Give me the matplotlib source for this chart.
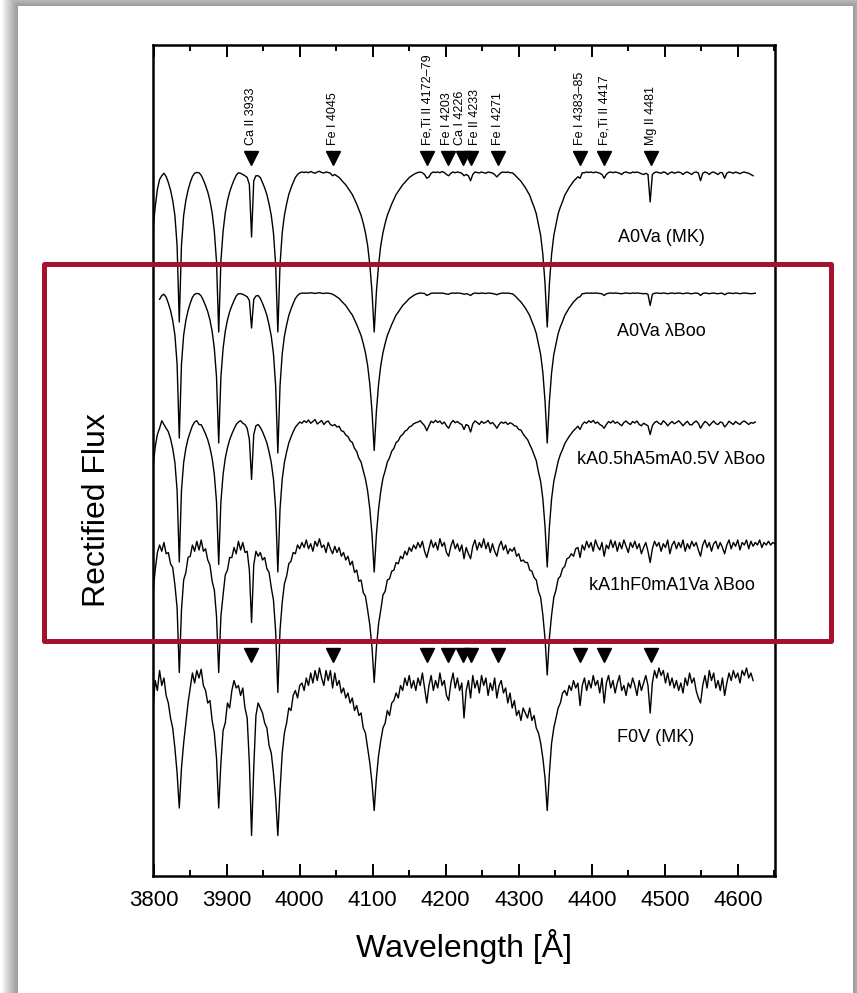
import numpy as np
import matplotlib.pyplot as plt
from matplotlib.patches import Rectangle
from matplotlib.ticker import MultipleLocator

plt.rcParams['font.family'] = ['Liberation Sans', 'DejaVu Sans']

nan = np.nan

# spectra sampled every 3 A from 3799 A
wave = np.arange(3799, 4652, 3)

# A0Va (MK)
flux_a0_mk = [
    .77, .86, .93, .97, .985, .995, .982, .958, .928, .886,
    .826, .706, .40, .706, .826, .886, .928, .958, .982, .995,
    .998, .997, .987, .968, .946, .92, .885, .837, .763, .642,
    .36, .642, .763, .837, .885, .92, .946, .968, .987, .997,
    .995, .99, .985, .978, .95, .74, .965, .985, .985, .978,
    .958, .936, .91, .872, .827, .757, .629, .36, .629, .757,
    .827, .872, .91, .936, .958, .978, .99, .997, 1.0, .998,
    1.0, .997, 1.002, .998, .995, 1.0, 1.003, .998, .996, 1.0,
    .998, .995, .985, .99, .984, .978, .968, .958, .949, .936,
    .923, .91, .891, .872, .85, .827, .795, .757, .706, .629,
    .52, .36, .52, .629, .706, .757, .795, .827, .85, .872,
    .891, .91, .923, .936, .949, .958, .968, .978, .984, .99,
    .995, .998, 1.0, .997, .99, .975, .98, .995, 1.0, .998,
    1.0, .997, 1.002, .998, .99, .985, .995, 1.0, .997, 1.0,
    .998, .995, .985, .99, .985, .965, .99, 1.0, .998, .996,
    1.0, .997, .995, 1.0, .998, .996, .99, .98, .99, .998,
    1.0, .998, 1.0, .997, .997, .99, .981, .972, .963, .95,
    .938, .922, .907, .882, .86, .833, .789, .746, .671, .554,
    .38, .554, .671, .746, .789, .833, .86, .882, .907, .922,
    .938, .95, .963, .972, .981, .975, .997, .997, 1.0, .998,
    1.0, .997, 1.0, .998, .995, .99, .975, .99, .998, 1.0,
    .997, 1.0, .998, .995, .99, .998, 1.0, .997, .995, 1.0,
    .998, 1.0, .997, .993, .99, .995, .99, .88, .99, .998,
    1.0, .997, .995, 1.0, .998, .99, .997, 1.0, .995, .998,
    1.0, .997, .99, .998, 1.0, .995, .99, .998, 1.0, .996,
    .965, .995, 1.0, .997, .99, .998, 1.0, .995, .99, .998,
    .997, .975, .995, 1.0, .998, .995, 1.0, .997, .993, .998,
    1.0, .997, .995, .99, .985,
]

# A0Va lambda Boo
flux_a0_lb = [
    nan, nan, nan, .975, .99, .995, .983, .959, .93, .89,
    .832, .716, .42, .716, .832, .89, .93, .959, .983, .995,
    .998, .997, .988, .97, .949, .925, .892, .847, .778, .664,
    .40, .664, .778, .847, .892, .925, .949, .97, .988, .997,
    .997, .995, .99, .985, .97, .86, .975, .988, .99, .978,
    .958, .936, .91, .872, .827, .757, .629, .36, .629, .757,
    .827, .872, .91, .936, .958, .978, .99, .997, 1.0, .999,
    1.0, .999, 1.001, 1.0, .998, 1.0, 1.001, .999, .998, 1.0,
    .999, .998, .995, .99, .984, .978, .968, .959, .95, .937,
    .924, .912, .893, .874, .852, .83, .798, .761, .71, .635,
    .527, .37, .527, .635, .71, .761, .798, .83, .852, .874,
    .893, .912, .924, .937, .95, .959, .968, .978, .984, .99,
    .995, .998, 1.0, .999, .998, .99, .994, .999, 1.0, .999,
    1.0, .999, 1.0, .998, .996, .995, .999, 1.0, .999, 1.0,
    .999, .998, .995, .997, .995, .99, .997, 1.0, .999, .998,
    1.0, .999, .998, 1.0, .999, .998, .996, .993, .997, .999,
    1.0, .999, 1.0, .998, .997, .991, .982, .973, .964, .952,
    .94, .925, .91, .886, .865, .838, .796, .754, .682, .568,
    .40, .568, .682, .754, .796, .838, .865, .886, .91, .925,
    .94, .952, .964, .973, .982, .985, .997, .998, 1.0, .999,
    1.0, .999, 1.0, .999, .998, .997, .99, .997, .999, 1.0,
    .999, 1.0, .999, .998, .997, .999, 1.0, .999, .998, 1.0,
    .999, 1.0, .999, .998, .997, .998, .995, .95, .995, .999,
    1.0, .999, .998, 1.0, .999, .997, .999, 1.0, .998, .999,
    1.0, .999, .997, .999, 1.0, .998, .997, .999, 1.0, .998,
    .99, .998, 1.0, .999, .997, .999, 1.0, .998, .997, .999,
    .999, .993, .998, 1.0, .999, .998, 1.0, .999, .997, .999,
    1.0, .999, .998, .997, .998, .999,
]

# kA0.5hA5mA0.5V lambda Boo
flux_ka05 = [
    .82, .90, .95, .975, 1.005, .99, .975, .961, .933, .894,
    .838, .726, .44, .726, .838, .894, .933, .96, .985, 1.0,
    1.005, .99, .989, .972, .952, .929, .897, .855, .79, .68,
    .43, .68, .79, .855, .897, .929, .952, .972, .99, 1.0,
    1.005, .995, .99, .975, .93, .77, .95, .985, .99, .979,
    .961, .94, .916, .88, .838, .772, .652, .40, .652, .772,
    .838, .88, .916, .94, .961, .979, .99, 1.0, .995, 1.005,
    .998, 1.008, .995, 1.002, 1.01, .992, .999, 1.006, .99, 1.0,
    1.004, .99, .985, .99, .98, .983, .965, .962, .948, .942,
    .925, .918, .895, .882, .855, .84, .805, .772, .724, .652,
    .55, .40, .55, .652, .724, .775, .805, .84, .857, .883,
    .895, .918, .925, .943, .95, .963, .968, .98, .984, .993,
    .997, 1.0, 1.005, .995, .985, .965, .985, 1.003, .997, 1.007,
    .998, 1.004, .992, 1.0, .985, .975, .995, 1.006, .997, 1.002,
    .994, .99, .97, .99, .985, .96, .992, 1.004, .998, .99,
    1.003, .995, .999, 1.006, .993, .998, .988, .975, .99, 1.0,
    .995, 1.0, .99, .997, .993, .985, .983, .97, .968, .952,
    .94, .93, .91, .892, .868, .845, .80, .762, .693, .582,
    .42, .582, .693, .762, .803, .843, .87, .89, .913, .928,
    .942, .954, .965, .974, .983, .97, .99, 1.0, .995, 1.005,
    .998, 1.006, .995, 1.0, .99, .985, .975, .99, 1.002, .996,
    1.005, .995, 1.0, .992, .985, .998, 1.004, .995, .99, 1.002,
    .996, 1.004, .99, .985, .995, .99, .985, .95, .985, .998,
    1.003, .995, .99, 1.005, .997, .985, .995, 1.002, .993, .998,
    1.005, .996, .985, .995, 1.003, .99, .988, .998, 1.004, .995,
    .975, .99, 1.002, .997, .985, .995, 1.004, .993, .99, 1.0,
    .997, .98, .99, 1.003, .996, .99, 1.002, .995, .99, 1.0,
    1.004, .997, .99, .998, .995, 1.0,
]

# kA1hF0mA1Va lambda Boo
flux_ka1 = [
    .81, .90, .97, 1.0, .975, 1.01, .965, .97, .925, .91,
    .84, .75, .49, .74, .86, .89, .95, .955, 1.0, .975,
    1.015, .98, 1.02, .975, .985, .94, .92, .855, .82, .715,
    .49, .715, .80, .88, .90, .95, .95, .99, .965, 1.015,
    .98, 1.01, .97, .975, .90, .69, .92, .975, .955, .97,
    .94, .95, .905, .89, .83, .78, .655, .41, .66, .77,
    .845, .875, .925, .935, .97, .965, 1.0, .985, 1.01, .99,
    1.02, .985, 1.005, .975, 1.015, .995, 1.025, .99, 1.0, .97,
    1.01, .985, .965, .995, .97, .99, .955, .97, .94, .955,
    .92, .935, .89, .90, .855, .86, .81, .795, .74, .68,
    .59, .45, .59, .685, .74, .80, .815, .86, .865, .895,
    .90, .93, .925, .955, .945, .975, .96, .99, .975, 1.0,
    .985, 1.01, .99, 1.015, .975, .95, .985, 1.02, .99, 1.01,
    .98, 1.025, .995, 1.01, .97, .955, .995, 1.02, .985, 1.005,
    .975, 1.0, .945, .99, .965, .945, .995, 1.02, .98, 1.01,
    .99, 1.025, .985, 1.01, .97, 1.005, .975, .955, .995, 1.015,
    .98, 1.0, .965, .985, .975, .99, .955, .965, .935, .94,
    .93, .93, .90, .895, .87, .86, .815, .79, .72, .625,
    .48, .63, .72, .79, .82, .865, .875, .905, .915, .945,
    .95, .965, .955, .985, .99, .95, 1.0, .98, 1.015, .99,
    1.01, .975, 1.02, .995, .98, 1.01, .955, 1.0, .985, 1.02,
    .99, 1.015, .975, 1.01, .985, 1.02, .995, .97, 1.01, .99,
    1.015, .985, 1.005, .965, .99, 1.01, .975, .93, .985, 1.015,
    .995, 1.01, .975, 1.005, .99, 1.02, .965, 1.0, 1.015, .985,
    1.01, .99, 1.02, .975, 1.005, .985, 1.015, .995, 1.01, .98,
    .955, 1.0, 1.02, .99, 1.01, .975, 1.005, 1.015, .985, 1.01,
    .99, .965, 1.0, 1.02, .985, 1.01, .995, 1.02, .98, 1.01,
    1.0, 1.02, .985, 1.015, .995, 1.01, 1.0, 1.02, .99, 1.01,
    1.0, 1.015, 1.0, 1.01, 1.005,
]

# F0V (MK)
flux_f0_mk = [
    .88, .99, .95, 1.03, .97, 1.0, .93, .90, .84, .80,
    .72, .62, .48, .64, .74, .82, .90, .96, 1.02, .98,
    1.03, 1.0, 1.035, .97, .95, .90, .91, .83, .78, .68,
    .48, .66, .79, .82, .90, .88, .95, .99, .96, .97,
    .93, .96, .88, .84, .66, .37, .64, .85, .90, .88,
    .86, .82, .80, .73, .70, .62, .52, .37, .55, .70,
    .78, .82, .88, .87, .93, .95, .92, .97, .98, .95,
    1.0, .97, 1.02, .98, 1.03, .99, 1.04, 1.0, .97, 1.03,
    .99, 1.03, .96, 1.02, .97, .99, .94, .96, .92, .94,
    .90, .92, .87, .89, .85, .86, .80, .78, .72, .66,
    .58, .47, .60, .69, .75, .80, .82, .87, .85, .90,
    .91, .94, .92, .97, .95, 1.0, .97, 1.01, .96, .99,
    .95, 1.0, .97, 1.02, .96, .90, .97, 1.01, .95, .99,
    .96, 1.02, .97, .99, .93, .91, .98, 1.02, .96, 1.0,
    .95, .98, .84, .95, .99, .92, 1.01, .96, .99, .94,
    1.01, .97, 1.0, .93, .98, .95, 1.0, .92, .97, .99,
    .94, .96, .90, .94, .88, .91, .85, .87, .83, .88,
    .86, .84, .88, .83, .85, .80, .78, .74, .68, .60,
    .47, .62, .74, .80, .84, .88, .90, .94, .95, .93,
    .97, .95, .99, .96, .98, .89, .97, 1.0, .95, .99,
    .96, 1.01, .97, .99, .94, 1.0, .90, .98, 1.01, .96,
    .99, .94, .98, 1.01, .95, .97, .93, .98, .96, 1.0,
    .97, .93, .99, .95, .98, 1.01, .97, .86, .98, 1.03,
    1.0, 1.04, 1.01, 1.03, .98, 1.02, .97, 1.0, .96, .99,
    .95, .98, .94, 1.0, .97, 1.02, .98, 1.0, .95, .92,
    .90, .97, 1.01, .96, 1.03, .99, 1.02, .96, .99, .95,
    1.0, .93, .98, 1.02, .99, 1.03, 1.0, 1.02, .98, 1.03,
    1.01, 1.04, 1.0, 1.02, .99,
]

spectra = [flux_a0_mk, flux_a0_lb, flux_ka05, flux_ka1, flux_f0_mk]
offsets = [2.024, 1.54, 1.024, 0.532, 0.0]
names = ["A0Va (MK)", "A0Va \u03bbBoo", "kA0.5hA5mA0.5V \u03bbBoo",
         "kA1hF0mA1Va \u03bbBoo", "F0V (MK)"]
name_x = [4495, 4495, 4509, 4510, 4488]
name_y = [2.764, 2.384, 1.876, 1.368, 0.76]

line_wave = [3933, 4045, 4175, 4203, 4224, 4235, 4271, 4384, 4417, 4481]
line_names = ["Ca II 3933", "Fe I 4045", "Fe,Ti II 4172\u201379", "Fe I 4203",
              "Ca I 4226", "Fe II 4233", "Fe I 4271", "Fe I 4383\u201385",
              "Fe,Ti II 4417", "Mg II 4481"]
# label positions nudged apart where two markers nearly touch
label_x = [3933, 4045, 4175, 4202, 4220, 4240, 4271, 4384, 4417, 4481]

W, H = 857, 993
fig = plt.figure(figsize=(W / 100, H / 100), dpi=100)
fig.patch.set_facecolor('white')

# soft drop shadow and white page
for k in range(16, 0, -1):
    fig.add_artist(Rectangle(((18 - k) / W, -0.1), (835 + 2 * k) / W,
                             1.1 + (k - 6) / H, transform=fig.transFigure,
                             facecolor='black', edgecolor='none',
                             alpha=0.028, zorder=-20))
fig.add_artist(Rectangle((18 / W, -0.1), 835 / W, 1.1 - 6 / H,
                         transform=fig.transFigure, facecolor='white',
                         edgecolor='none', zorder=-10))

ax = fig.add_axes([153 / W, 117 / H, 622 / W, 831 / H])
for flux, off in zip(spectra, offsets):
    f = np.array(flux)
    ax.plot(wave[:len(f)], f + off, color='black', lw=1.0)

for name, x, y in zip(names, name_x, name_y):
    ax.text(x, y, name, ha='center', va='center', fontsize=13)

ax.plot(line_wave, [3.08] * len(line_wave), 'v', color='black', ms=9.5)
ax.plot(line_wave, [1.092] * len(line_wave), 'v', color='black', ms=9.5)
for x, lab in zip(label_x, line_names):
    ax.text(x, 3.13, lab, rotation=90, ha='center', va='bottom', fontsize=9)

ax.set_xlim(3799, 4651)
ax.set_ylim(0.208, 3.532)
ax.set_yticks([])
ax.xaxis.set_major_locator(MultipleLocator(100))
ax.xaxis.set_minor_locator(MultipleLocator(50))
ax.tick_params(axis='x', which='both', direction='in', top=True, bottom=True,
               labelsize=16, pad=10, width=1.4)
ax.tick_params(axis='x', which='major', length=8.6)
ax.tick_params(axis='x', which='minor', length=4.3)
for sp in ax.spines.values():
    sp.set_linewidth(1.8)

fig.text(464 / W, 1 - 946 / H, "Wavelength [\u00c5]", ha='center',
         va='center', fontsize=23)
fig.text(97 / W, 1 - 510 / H, "Rectified Flux", rotation=90, ha='center',
         va='center', fontsize=23)

# highlight box
fig.add_artist(Rectangle((44 / W, 1 - 640.5 / H), 787 / W, 377 / H,
                         transform=fig.transFigure, fill=False,
                         edgecolor='#a6122d', lw=3.6, joinstyle='round',
                         zorder=10))

fig.savefig('out.png', dpi=100)
